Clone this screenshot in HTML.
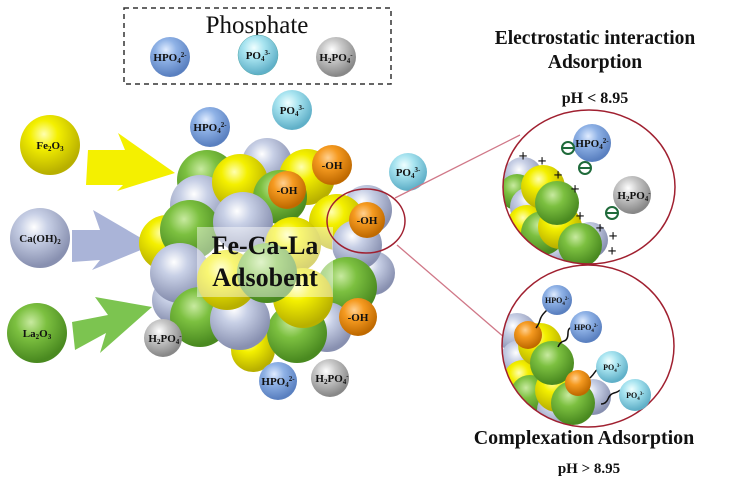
<!DOCTYPE html>
<html><head><meta charset="utf-8"><style>
html,body{margin:0;padding:0;background:#fff;}
svg{display:block;}
text{font-family:"Liberation Serif",serif;font-weight:bold;fill:#111;}
</style></head><body>
<svg width="737" height="486" viewBox="0 0 737 486" xmlns="http://www.w3.org/2000/svg">
<defs>
<radialGradient id="gY" cx="40%" cy="32%" r="65%"><stop offset="0" stop-color="#ffffb0"/><stop offset="0.35" stop-color="#f4f000"/><stop offset="1" stop-color="#b8b000"/></radialGradient>
<radialGradient id="gG" cx="40%" cy="32%" r="65%"><stop offset="0" stop-color="#c8eaa0"/><stop offset="0.4" stop-color="#7cc040"/><stop offset="1" stop-color="#4a8a20"/></radialGradient>
<radialGradient id="gL" cx="40%" cy="32%" r="65%"><stop offset="0" stop-color="#ffffff"/><stop offset="0.35" stop-color="#c8d0e6"/><stop offset="1" stop-color="#8890b0"/></radialGradient>
<radialGradient id="gO" cx="40%" cy="32%" r="65%"><stop offset="0" stop-color="#ffd090"/><stop offset="0.4" stop-color="#f59a20"/><stop offset="1" stop-color="#c06a00"/></radialGradient>
<radialGradient id="gB" cx="40%" cy="32%" r="65%"><stop offset="0" stop-color="#e0ecff"/><stop offset="0.4" stop-color="#8fb2e6"/><stop offset="1" stop-color="#5a80c0"/></radialGradient>
<radialGradient id="gC" cx="40%" cy="32%" r="65%"><stop offset="0" stop-color="#f0ffff"/><stop offset="0.4" stop-color="#a8e4f0"/><stop offset="1" stop-color="#60b0c8"/></radialGradient>
<radialGradient id="gS" cx="40%" cy="32%" r="65%"><stop offset="0" stop-color="#ffffff"/><stop offset="0.4" stop-color="#c8c8c8"/><stop offset="1" stop-color="#888"/></radialGradient>
<clipPath id="c1"><ellipse cx="589" cy="187" rx="86" ry="77"/></clipPath>
<clipPath id="c2"><ellipse cx="588" cy="346" rx="86" ry="81"/></clipPath>
</defs>

<rect x="124" y="8" width="267" height="76" fill="none" stroke="#333" stroke-width="1.5" stroke-dasharray="5,4"/>
<text x="257" y="33" font-size="25" text-anchor="middle" style="font-weight:normal">Phosphate</text>
<circle cx="170" cy="57" r="20" fill="url(#gB)"/><text x="170" y="61" font-size="11" text-anchor="middle">HPO<tspan font-size="7" dy="2">4</tspan><tspan font-size="7" dy="-6">2-</tspan></text>
<circle cx="258" cy="55" r="20" fill="url(#gC)" stroke="#5aa" stroke-width="0.5"/><text x="258" y="59" font-size="11" text-anchor="middle">PO<tspan font-size="7" dy="2">4</tspan><tspan font-size="7" dy="-6">3-</tspan></text>
<circle cx="336" cy="57" r="20" fill="url(#gS)"/><text x="336" y="61" font-size="11" text-anchor="middle">H<tspan font-size="7" dy="2">2</tspan><tspan dy="-2">PO</tspan><tspan font-size="7" dy="2">4</tspan><tspan font-size="7" dy="-6">-</tspan></text>

<circle cx="50" cy="145" r="30" fill="url(#gY)"/><text x="50" y="149" font-size="11" text-anchor="middle">Fe<tspan font-size="7" dy="2">2</tspan><tspan dy="-2">O</tspan><tspan font-size="7" dy="2">3</tspan></text>
<circle cx="40" cy="238" r="30" fill="url(#gL)"/><text x="40" y="242" font-size="11" text-anchor="middle">Ca(OH)<tspan font-size="7" dy="2">2</tspan></text>
<circle cx="37" cy="333" r="30" fill="url(#gG)"/><text x="37" y="337" font-size="11" text-anchor="middle">La<tspan font-size="7" dy="2">2</tspan><tspan dy="-2">O</tspan><tspan font-size="7" dy="2">3</tspan></text>

<polygon points="88,150 125,150 118,133 175,173 117,191 123,185 86,185" fill="#f4f000"/>
<polygon points="72,230 100,230 93,210 153,245 92,270 100,260 72,262" fill="#aab4d8"/>
<polygon points="72,322 108,315 95,297 152,307 100,353 106,333 75,350" fill="#7cc450"/>

<g>
<circle cx="267" cy="163" r="25" fill="url(#gL)"/>
<circle cx="177" cy="300" r="25" fill="url(#gL)"/>
<circle cx="367" cy="210" r="25" fill="url(#gL)"/>
<circle cx="373" cy="273" r="22" fill="url(#gL)"/>
<circle cx="207" cy="180" r="30" fill="url(#gG)"/>
<circle cx="200" cy="205" r="30" fill="url(#gL)"/>
<circle cx="240" cy="182" r="28" fill="url(#gY)"/>
<circle cx="307" cy="177" r="28" fill="url(#gY)"/>
<circle cx="280" cy="197" r="27" fill="url(#gG)"/>
<circle cx="337" cy="222" r="28" fill="url(#gY)"/>
<circle cx="167" cy="243" r="28" fill="url(#gY)"/>
<circle cx="190" cy="230" r="30" fill="url(#gG)"/>
<circle cx="180" cy="273" r="30" fill="url(#gL)"/>
<circle cx="357" cy="245" r="25" fill="url(#gL)"/>
<circle cx="243" cy="222" r="30" fill="url(#gL)"/>
<circle cx="293" cy="245" r="28" fill="url(#gY)"/>
<circle cx="347" cy="287" r="30" fill="url(#gG)"/>
<circle cx="253" cy="350" r="22" fill="url(#gY)"/>
<circle cx="327" cy="327" r="25" fill="url(#gL)"/>
<circle cx="200" cy="317" r="30" fill="url(#gG)"/>
<circle cx="297" cy="333" r="30" fill="url(#gG)"/>
<circle cx="240" cy="320" r="30" fill="url(#gL)"/>
<circle cx="303" cy="298" r="30" fill="url(#gY)"/>
<circle cx="227" cy="280" r="30" fill="url(#gY)"/>
<circle cx="267" cy="273" r="30" fill="url(#gG)"/>
</g>
<rect x="197" y="227" width="136" height="70" fill="#fff" fill-opacity="0.45"/>
<text x="265" y="254" font-size="26" text-anchor="middle">Fe-Ca-La</text>
<text x="265" y="286" font-size="26" text-anchor="middle">Adsobent</text>

<circle cx="332" cy="165" r="20" fill="url(#gO)"/><text x="332" y="169" font-size="11" text-anchor="middle">-OH</text>
<circle cx="287" cy="190" r="19" fill="url(#gO)"/><text x="287" y="194" font-size="11" text-anchor="middle">-OH</text>
<circle cx="367" cy="220" r="18" fill="url(#gO)"/><text x="367" y="224" font-size="11" text-anchor="middle">-OH</text>
<circle cx="358" cy="317" r="19" fill="url(#gO)"/><text x="358" y="321" font-size="11" text-anchor="middle">-OH</text>
<ellipse cx="366" cy="221" rx="39" ry="32" fill="none" stroke="#a02030" stroke-width="1.5"/>

<circle cx="210" cy="127" r="20" fill="url(#gB)"/><text x="210" y="131" font-size="11" text-anchor="middle">HPO<tspan font-size="7" dy="2">4</tspan><tspan font-size="7" dy="-6">2-</tspan></text>
<circle cx="292" cy="110" r="20" fill="url(#gC)"/><text x="292" y="114" font-size="11" text-anchor="middle">PO<tspan font-size="7" dy="2">4</tspan><tspan font-size="7" dy="-6">3-</tspan></text>
<circle cx="408" cy="172" r="19" fill="url(#gC)"/><text x="408" y="176" font-size="11" text-anchor="middle">PO<tspan font-size="7" dy="2">4</tspan><tspan font-size="7" dy="-6">3-</tspan></text>
<circle cx="163" cy="338" r="19" fill="url(#gS)"/><text x="165" y="342" font-size="11" text-anchor="middle">H<tspan font-size="7" dy="2">2</tspan><tspan dy="-2">PO</tspan><tspan font-size="7" dy="2">4</tspan><tspan font-size="7" dy="-6">-</tspan></text>
<circle cx="278" cy="381" r="19" fill="url(#gB)"/><text x="278" y="385" font-size="11" text-anchor="middle">HPO<tspan font-size="7" dy="2">4</tspan><tspan font-size="7" dy="-6">2-</tspan></text>
<circle cx="330" cy="378" r="19" fill="url(#gS)"/><text x="332" y="382" font-size="11" text-anchor="middle">H<tspan font-size="7" dy="2">2</tspan><tspan dy="-2">PO</tspan><tspan font-size="7" dy="2">4</tspan><tspan font-size="7" dy="-6">-</tspan></text>

<line x1="395" y1="198" x2="520" y2="135" stroke="#d07888" stroke-width="1.3"/>
<line x1="397" y1="245" x2="505" y2="338" stroke="#d07888" stroke-width="1.3"/>

<text x="595" y="44" font-size="19.5" text-anchor="middle">Electrostatic interaction</text>
<text x="595" y="68" font-size="19.5" text-anchor="middle">Adsorption</text>
<text x="595" y="103" font-size="16" text-anchor="middle">pH &lt; 8.95</text>

<g clip-path="url(#c1)">
<circle cx="523" cy="177" r="20" fill="url(#gL)"/>
<circle cx="517" cy="192" r="18" fill="url(#gG)"/>
<circle cx="530" cy="207" r="20" fill="url(#gL)"/>
<circle cx="527" cy="225" r="20" fill="url(#gY)"/>
<circle cx="543" cy="187" r="22" fill="url(#gY)"/>
<circle cx="557" cy="250" r="18" fill="url(#gL)"/>
<circle cx="590" cy="240" r="18" fill="url(#gL)"/>
<circle cx="543" cy="233" r="22" fill="url(#gG)"/>
<circle cx="560" cy="227" r="22" fill="url(#gY)"/>
<circle cx="557" cy="203" r="22" fill="url(#gG)"/>
<circle cx="580" cy="245" r="22" fill="url(#gG)"/>
</g>
<ellipse cx="589" cy="187" rx="86" ry="77" fill="none" stroke="#a02030" stroke-width="1.5"/>
<circle cx="592" cy="143" r="19" fill="url(#gB)"/><text x="592" y="147" font-size="11" text-anchor="middle">HPO<tspan font-size="7" dy="2">4</tspan><tspan font-size="7" dy="-6">2-</tspan></text>
<circle cx="632" cy="195" r="19" fill="url(#gS)"/><text x="634" y="199" font-size="11" text-anchor="middle">H<tspan font-size="7" dy="2">2</tspan><tspan dy="-2">PO</tspan><tspan font-size="7" dy="2">4</tspan><tspan font-size="7" dy="-6">-</tspan></text>
<g fill="none" stroke="#1f6a3a" stroke-width="2">
<circle cx="568" cy="148" r="6"/><line x1="563" y1="148" x2="573" y2="148"/>
<circle cx="585" cy="168" r="6"/><line x1="580" y1="168" x2="590" y2="168"/>
<circle cx="612" cy="213" r="6"/><line x1="607" y1="213" x2="617" y2="213"/>
</g>
<g font-size="16" text-anchor="middle">
<text x="523" y="161">+</text><text x="542" y="166">+</text><text x="558" y="180">+</text><text x="575" y="194">+</text><text x="580" y="221">+</text><text x="600" y="233">+</text><text x="613" y="241">+</text><text x="612" y="256">+</text>
</g>

<g clip-path="url(#c2)">
<circle cx="517" cy="333" r="20" fill="url(#gL)"/>
<circle cx="520" cy="360" r="20" fill="url(#gL)"/>
<circle cx="523" cy="380" r="20" fill="url(#gY)"/>
<circle cx="530" cy="395" r="20" fill="url(#gG)"/>
<circle cx="557" cy="410" r="20" fill="url(#gL)"/>
<circle cx="540" cy="345" r="22" fill="url(#gY)"/>
<circle cx="593" cy="397" r="18" fill="url(#gL)"/>
<circle cx="557" cy="390" r="22" fill="url(#gY)"/>
<circle cx="552" cy="363" r="22" fill="url(#gG)"/>
<circle cx="573" cy="403" r="22" fill="url(#gG)"/>
<circle cx="528" cy="335" r="14" fill="url(#gO)"/>
<circle cx="578" cy="383" r="13" fill="url(#gO)"/>
</g>
<ellipse cx="588" cy="346" rx="86" ry="81" fill="none" stroke="#a02030" stroke-width="1.5"/>
<g fill="none" stroke="#111" stroke-width="1.5">
<path d="M536,328 q3,-4 4,-8 t5,-8 t6,-6"/>
<path d="M558,347 q2,-5 6,-6 t4,-8 t7,-5"/>
<path d="M590,378 q3,-3 5,-6 t5,-4"/>
<path d="M601,404 q5,0 7,-5 t6,-6 t6,-3"/>
</g>
<circle cx="557" cy="300" r="15" fill="url(#gB)"/><text x="557" y="303" font-size="8" text-anchor="middle">HPO<tspan font-size="5" dy="2">4</tspan><tspan font-size="5" dy="-5">2-</tspan></text>
<circle cx="586" cy="327" r="16" fill="url(#gB)"/><text x="586" y="330" font-size="8" text-anchor="middle">HPO<tspan font-size="5" dy="2">4</tspan><tspan font-size="5" dy="-5">2-</tspan></text>
<circle cx="612" cy="367" r="16" fill="url(#gC)"/><text x="612" y="370" font-size="8" text-anchor="middle">PO<tspan font-size="5" dy="2">4</tspan><tspan font-size="5" dy="-5">3-</tspan></text>
<circle cx="635" cy="395" r="16" fill="url(#gC)"/><text x="635" y="398" font-size="8" text-anchor="middle">PO<tspan font-size="5" dy="2">4</tspan><tspan font-size="5" dy="-5">3-</tspan></text>

<text x="584" y="444" font-size="20" text-anchor="middle">Complexation Adsorption</text>
<text x="589" y="473" font-size="15" text-anchor="middle">pH &gt; 8.95</text>
</svg>
</body></html>
